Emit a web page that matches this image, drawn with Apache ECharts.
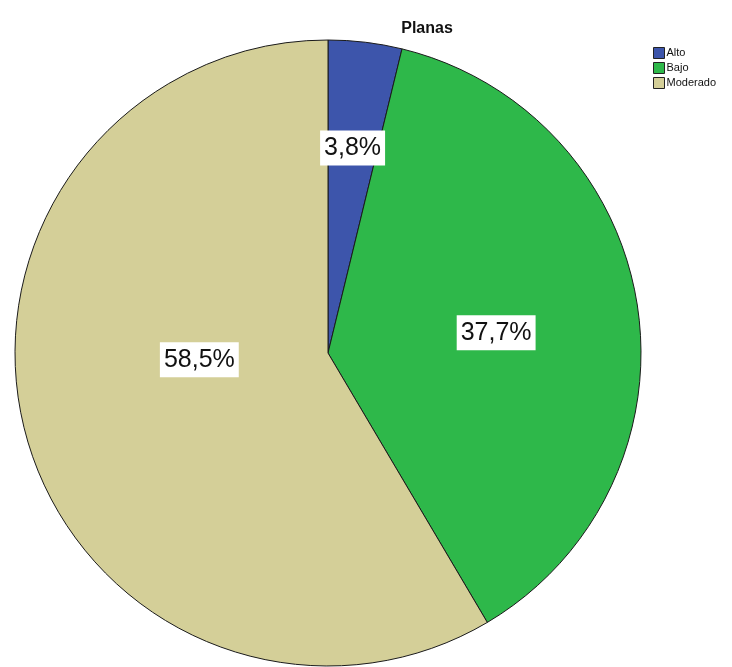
<!DOCTYPE html>
<html><head><meta charset="utf-8">
<script src="https://cdn.jsdelivr.net/npm/echarts@6/dist/echarts.min.js"></script>
<style>html,body{margin:0;padding:0;background:#fff}#c{width:732px;height:667px}</style>
</head><body><div id="c"></div>
<script>
const categories = ['Alto', 'Bajo', 'Moderado'];
const values = [3.8, 37.7, 58.5];
const colors = ['#3d55ab', '#2eb84a', '#d4cf98'];
const title = 'Planas';

const chart = echarts.init(document.getElementById('c'));
const center = [328, 353];
const R = 313;
const fmt = p => p.value.toFixed(1).replace('.', ',') + '%';
const labelStyle = {
  show: true, position: 'inside', formatter: fmt,
  fontFamily: 'Arial, Liberation Sans, sans-serif', fontSize: 25, color: '#111',
  backgroundColor: '#fff', padding: [6, 4, 4, 4]
};
// label radii / shifts per slice (SPSS places them at different distances)
const labelRadii = [[0.30 * R, R], [0.08 * R, R], [0, 0.82 * R]];
const labelShift = [[0, 0], [-2, 5], [-2, -28]];

const series = [{
  type: 'pie', center, radius: R, startAngle: 90, clockwise: true,
  silent: true, animation: false,
  label: { show: false }, labelLine: { show: false },
  itemStyle: { borderColor: '#1a1a1a', borderWidth: 1 },
  data: categories.map((c, i) => ({ name: c, value: values[i], itemStyle: { color: colors[i] } }))
}];
categories.forEach((c, k) => {
  series.push({
    type: 'pie', center, radius: labelRadii[k], startAngle: 90, clockwise: true,
    silent: true, animation: false, legendHoverLink: false,
    labelLine: { show: false },
    labelLayout: { dx: labelShift[k][0], dy: labelShift[k][1] },
    itemStyle: { color: 'rgba(0,0,0,0)', borderWidth: 0 },
    data: categories.map((cc, i) => ({
      name: cc, value: values[i],
      label: i === k ? labelStyle : { show: false }
    }))
  });
});

chart.setOption({
  animation: false,
  title: { text: title, left: 422, top: 16, textAlign: 'center',
    textStyle: { fontFamily: 'Arial, Liberation Sans, sans-serif', fontSize: 16, fontWeight: 'bold', color: '#111' } },
  legend: {
    orient: 'vertical', left: 648, top: 42, itemWidth: 11, itemHeight: 11, itemGap: 3,
    icon: 'rect', selectedMode: false,
    data: categories.map((c, i) => ({ name: c, itemStyle: { color: colors[i], borderColor: '#222', borderWidth: 1 } })),
    textStyle: { fontFamily: 'Arial, Liberation Sans, sans-serif', fontSize: 11, color: '#111', padding: [0, 0, 0, -3] }
  },
  series
});
</script></body></html>
